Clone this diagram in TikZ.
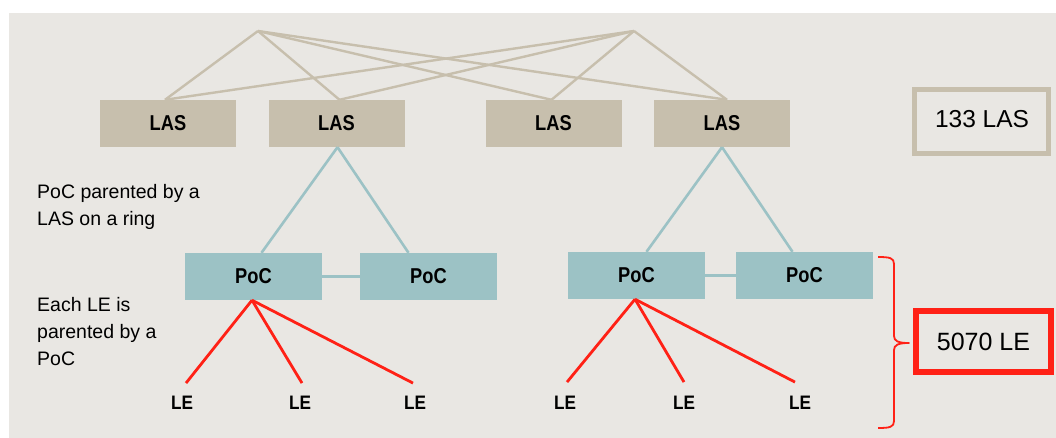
\documentclass[tikz,border=0pt]{standalone}
\usepackage{fontspec}
\setmainfont{Liberation Sans}
\newfontfamily\lblfont[FakeStretch=0.85]{Liberation Sans}
\newfontfamily\lefont[FakeStretch=0.88]{Liberation Sans}
\usetikzlibrary{calc}
\definecolor{bgc}{HTML}{E9E7E3}
\definecolor{tanc}{HTML}{C7BFAD}
\definecolor{tealc}{HTML}{9CC2C5}
\definecolor{redc}{HTML}{FF2116}
\tikzset{
  lasbox/.style={fill=tanc, minimum width=136pt, minimum height=47pt, inner sep=0pt, font=\lblfont\bfseries\fontsize{21.5}{25}\selectfont},
  pocbox/.style={fill=tealc, minimum width=137pt, minimum height=47pt, inner sep=0pt, font=\lblfont\bfseries\fontsize{21.5}{25}\selectfont},
  lelabel/.style={inner sep=0pt, font=\lefont\bfseries\fontsize{19.5}{23}\selectfont},
  note/.style={inner sep=0pt, align=left, anchor=north west, font=\fontsize{19.5}{27}\selectfont},
  tanline/.style={draw=tanc, line width=2.4pt},
  tealline/.style={draw=tealc, line width=2.6pt},
  redline/.style={draw=redc, line width=2.8pt},
  countbox/.style={inner sep=0pt, font=\fontsize{25}{30}\selectfont}
}
\begin{document}
\begin{tikzpicture}[x=1pt,y=-1pt]
\useasboundingbox (0,0) rectangle (1056,438);
\fill[white] (0,0) rectangle (1056,438);
\fill[bgc] (9,13) rectangle (1056,438);

% hubs
\coordinate (h1) at (258,31);
\coordinate (h2) at (634,31);

% LAS boxes
\node[lasbox] (las1) at (168,123.5) {\raisebox{1.5pt}{LAS}};
\node[lasbox] (las2) at (336.5,123.5) {\raisebox{1.5pt}{LAS}};
\node[lasbox] (las3) at (553.5,123.5) {\raisebox{1.5pt}{LAS}};
\node[lasbox] (las4) at (722,123.5) {\raisebox{1.5pt}{LAS}};

\foreach \h in {h1,h2}{
  \draw[tanline] (\h) -- ($(las1.north)+(-3,0)$);
  \draw[tanline] (\h) -- ($(las2.north)+(3,0)$);
  \draw[tanline] (\h) -- ($(las3.north)+(-2,0)$);
  \draw[tanline] (\h) -- ($(las4.north)+(5,0)$);
}

% 133 LAS
\draw[draw=tanc, line width=5pt] (914.5,89.5) rectangle (1048.5,153.5);
\node[countbox, font=\fontsize{24.5}{29}\selectfont] (nlas) at (982,119) {133 LAS};

% PoC boxes
\node[pocbox] (poc1) at (253.5,276.5) {\raisebox{1.5pt}{PoC}};
\node[pocbox] (poc2) at (428.5,276.5) {\raisebox{1.5pt}{PoC}};
\node[pocbox] (poc3) at (636.5,275.5) {\raisebox{1.5pt}{PoC}};
\node[pocbox] (poc4) at (804.5,275.5) {\raisebox{1.5pt}{PoC}};

\draw[tealline] ($(las2.south)+(1,0)$) -- ($(poc1.north)+(8,0)$);
\draw[tealline] ($(las2.south)+(1,0)$) -- ($(poc2.north)+(-20,0)$);
\draw[tealline] (las4.south) -- ($(poc3.north)+(10,0)$);
\draw[tealline] (las4.south) -- ($(poc4.north)+(-12,0)$);
\draw[tealline] (poc1.east) -- (poc2.west);
\draw[tealline] (poc3.east) -- (poc4.west);

% LE labels
\node[lelabel] (le1) at (182,403) {LE};
\node[lelabel] (le2) at (300,403) {LE};
\node[lelabel] (le3) at (415,403) {LE};
\node[lelabel] (le4) at (565,403) {LE};
\node[lelabel] (le5) at (684,403) {LE};
\node[lelabel] (le6) at (800,403) {LE};

\draw[redline] ($(poc1.south)+(-1.5,0)$) -- ($(le1.north)+(4,-13)$);
\draw[redline] ($(poc1.south)+(-1.5,0)$) -- ($(le2.north)+(2,-13)$);
\draw[redline] ($(poc1.south)+(-1.5,0)$) -- ($(le3.north)+(-2,-13)$);
\draw[redline] ($(poc3.south)+(-1.5,0)$) -- ($(le4.north)+(2,-14)$);
\draw[redline] ($(poc3.south)+(-1.5,0)$) -- ($(le5.north)+(0,-14)$);
\draw[redline] ($(poc3.south)+(-1.5,0)$) -- ($(le6.north)+(-5,-14)$);

% notes
\node[note] (n1) at (37,184) {PoC parented by a\\LAS on a ring};
\node[note] (n2) at (37,297) {Each LE is\\parented by a\\PoC};

% brace
\coordinate (btip) at (909,343);
\draw[draw=redc, line width=1.8pt, line join=round]
  (878,257) .. controls (890,257) and (894,258) .. (894,264)
  -- (894,336) .. controls (894,341) and (898,343) .. (btip)
  .. controls (898,343) and (894,345) .. (894,350)
  -- (894,421) .. controls (894,427) and (890,428) .. (878,428);

% 5070 LE
\draw[draw=redc, line width=6pt] (916,311) rectangle (1051,372);
\node[countbox] (nle) at (983.5,341.5) {5070 LE};
\end{tikzpicture}
\end{document}
